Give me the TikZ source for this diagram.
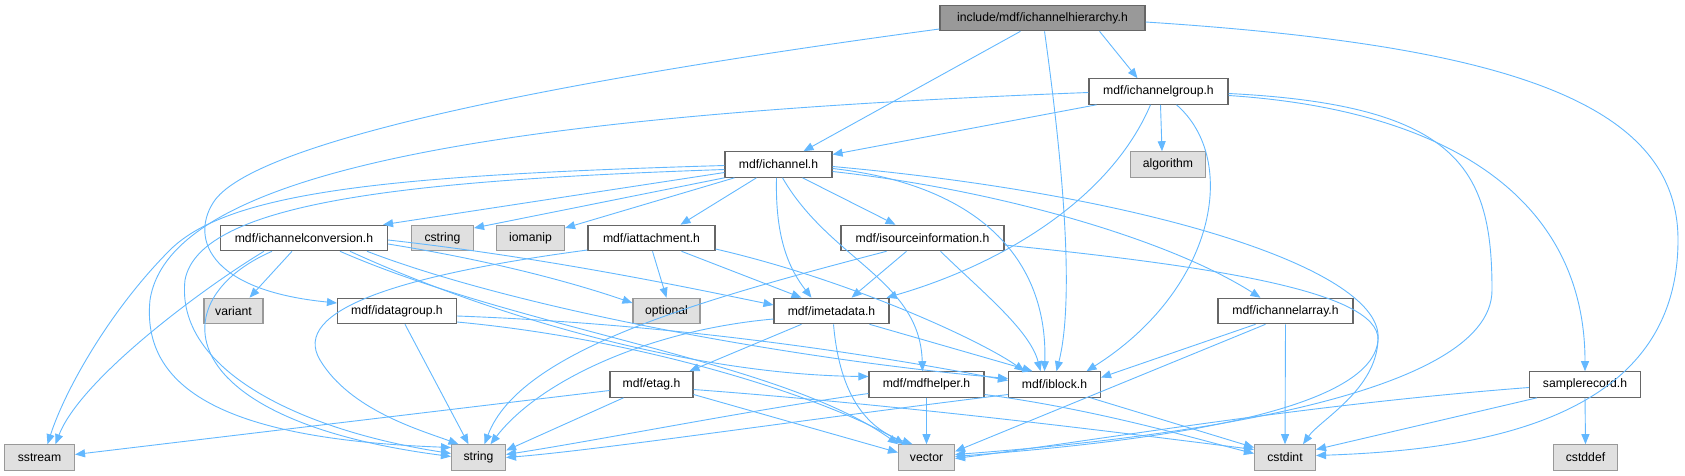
\documentclass[tikz,border=0pt]{standalone}
\usepackage{fontspec}
\setmainfont{Liberation Sans}
\usepackage{xcolor}
\usepackage{tikz}
\usetikzlibrary{arrows.meta}
\definecolor{edgeblue}{HTML}{63B8FF}
\definecolor{boxline}{HTML}{666666}
\definecolor{sysline}{HTML}{999999}
\definecolor{sysfill}{HTML}{E0E0E0}
\tikzset{
  hdr/.style={rectangle, draw=boxline, line width=1.1pt, fill=white, minimum height=25.5pt, inner sep=0pt, font=\fontsize{12.2}{14}\selectfont},
  sys/.style={hdr, draw=sysline, fill=sysfill},
  mainhdr/.style={hdr, fill=sysline},
  dep/.style={-{Triangle[length=10pt,width=8pt]}, line width=0.9pt, edgeblue},
}

\begin{document}
\begin{tikzpicture}[x=1pt, y=-1pt]
\useasboundingbox (0,0) rectangle (1685,476);
\node[mainhdr, minimum width=205pt] (root) at (1042.5,18) {include/mdf/ichannelhierarchy.h};
\node[hdr, minimum width=139pt] (grp) at (1158.5,91.5) {mdf/ichannelgroup.h};
\node[hdr, minimum width=107pt] (chan) at (778.5,164.5) {mdf/ichannel.h};
\node[sys, minimum width=75pt] (algo) at (1168,164.5) {algorithm};
\node[hdr, minimum width=167pt] (conv) at (304,238) {mdf/ichannelconversion.h};
\node[sys, minimum width=62pt] (cstr) at (442.5,238) {cstring};
\node[sys, minimum width=68pt] (ioman) at (530.5,238) {iomanip};
\node[hdr, minimum width=127pt] (attach) at (651.5,238) {mdf/iattachment.h};
\node[hdr, minimum width=163pt] (srcinfo) at (922.5,238) {mdf/isourceinformation.h};
\node[sys, minimum width=59pt] (variant) at (233.5,311) {variant};
\node[hdr, minimum width=119pt] (dgrp) at (397,311) {mdf/idatagroup.h};
\node[sys, minimum width=67pt] (optional) at (666.5,311) {optional};
\node[hdr, minimum width=115pt] (meta) at (831.5,311) {mdf/imetadata.h};
\node[hdr, minimum width=135pt] (chanarr) at (1285.5,311) {mdf/ichannelarray.h};
\node[hdr, minimum width=83pt] (etag) at (651.5,384.5) {mdf/etag.h};
\node[hdr, minimum width=115pt] (helper) at (926.5,384.5) {mdf/mdfhelper.h};
\node[hdr, minimum width=92pt] (block) at (1054.5,384.5) {mdf/iblock.h};
\node[hdr, minimum width=111pt] (srec) at (1585,384.5) {samplerecord.h};
\node[sys, minimum width=70pt] (sstream) at (39.5,457.5) {sstream};
\node[sys, minimum width=54pt] (string) at (478.5,457.5) {string};
\node[sys, minimum width=56pt] (vector) at (926.5,457.5) {vector};
\node[sys, minimum width=61pt] (cstdint) at (1285,457.5) {cstdint};
\node[sys, minimum width=64pt] (cstddef) at (1585.5,457.5) {cstddef};

\draw[dep]([xshift=57pt]root.south)--([xshift=-21pt]grp.north);
\draw[dep]([xshift=-22pt]root.south)--([xshift=25pt]chan.north);
\draw[dep]([xshift=2pt]root.south) .. controls (1068,200) and (1072,310) .. ([xshift=2pt]block.north);
\draw[dep]([yshift=-4pt]root.east) .. controls (1500,45) and (1678,100) .. (1678,240) .. controls (1678,420) and (1480,450) .. ([yshift=2pt]cstdint.east);
\draw[dep]([yshift=-11pt]root.west) .. controls (560,80) and (260,140) .. (215,200) .. controls (190,235) and (205,290) .. ([yshift=8pt]dgrp.west);

\draw[dep]([xshift=-62pt]grp.south)--([yshift=10pt]chan.east);
\draw[dep]([yshift=-1pt]grp.west) .. controls (500,115) and (170,170) .. (150,300) .. controls (140,400) and (250,440) .. ([yshift=10pt]string.west);
\draw[dep]([xshift=-8pt]grp.south) .. controls (1110,200) and (1000,265) .. ([xshift=-3pt]meta.north east);
\draw[dep]([xshift=2pt]grp.south)--([xshift=-6pt]algo.north);
\draw[dep]([xshift=18pt]grp.south) .. controls (1240,160) and (1215,290) .. ([xshift=32pt]block.north);
\draw[dep]([yshift=-2pt]grp.east) .. controls (1460,105) and (1492,170) .. (1492,290) .. controls (1492,400) and (1150,440) .. ([yshift=3pt]vector.east);
\draw[dep]([yshift=-4pt]grp.east) .. controls (1450,110) and (1585,200) .. (srec.north);

\draw[dep]([yshift=-1pt]chan.west) .. controls (400,175) and (230,190) .. (170,250) .. controls (110,310) and (65,390) .. ([xshift=8pt]sstream.north);
\draw[dep]([yshift=-5pt]chan.west) .. controls (420,180) and (200,200) .. (185,280) .. controls (175,370) and (300,430) .. ([yshift=4pt]string.west);
\draw[dep]([yshift=-8pt]chan.west)--([xshift=-5pt]conv.north east);
\draw[dep](chan.south west)--([yshift=10pt]cstr.east);
\draw[dep]([xshift=-44pt]chan.south)--([yshift=10pt]ioman.east);
\draw[dep]([xshift=-22pt]chan.south)--([xshift=29pt]attach.north);
\draw[dep]([xshift=-2pt]chan.south) .. controls (775,240) and (790,270) .. ([xshift=-20pt]meta.north);
\draw[dep]([xshift=4pt]chan.south) .. controls (830,260) and (920,280) .. ([xshift=-4pt]helper.north);
\draw[dep]([xshift=24pt]chan.south)--([xshift=-27pt]srcinfo.north);
\draw[dep]([yshift=-4pt]chan.east) .. controls (980,185) and (1048,260) .. ([xshift=-10pt]block.north);
\draw[dep]([yshift=-7pt]chan.east) .. controls (1000,190) and (1170,240) .. ([xshift=-25pt]chanarr.north);
\draw[dep]([yshift=-2pt]chan.east) .. controls (1150,195) and (1385,270) .. (1378,340) .. controls (1372,420) and (1100,445) .. ([yshift=1pt]vector.east);

\draw[dep]([xshift=-12pt]conv.south)--([xshift=16pt]variant.north);
\draw[dep]([xshift=-40pt]conv.south) .. controls (200,290) and (80,380) .. ([xshift=16pt]sstream.north);
\draw[dep]([xshift=-32pt]conv.south) .. controls (160,300) and (170,420) .. ([yshift=1pt]string.west);
\draw[dep]([yshift=-6pt]conv.east) .. controls (500,262) and (580,285) .. ([yshift=8pt]optional.west);
\draw[dep]([yshift=-2pt]conv.east) .. controls (550,258) and (700,290) .. ([yshift=6pt]meta.west);
\draw[dep]([xshift=63pt]conv.south) .. controls (520,310) and (800,360) .. ([yshift=6pt]block.west);
\draw[dep]([xshift=46pt]conv.south) .. controls (500,320) and (700,375) .. ([yshift=8pt]helper.west);
\draw[dep]([xshift=36pt]conv.south) .. controls (520,330) and (780,360) .. (vector.north west);

\draw[dep]([xshift=8pt]dgrp.south)--([xshift=-10pt]string.north);
\draw[dep]([yshift=-5pt]dgrp.east) .. controls (700,325) and (900,360) .. ([yshift=4pt]block.west);
\draw[dep]([yshift=-11pt]dgrp.east) .. controls (650,340) and (830,400) .. ([xshift=-22pt]vector.north);

\draw[dep]([yshift=-12pt]attach.west) .. controls (400,275) and (290,310) .. (320,360) .. controls (350,410) and (420,430) .. ([xshift=-20pt]string.north);
\draw[dep]([xshift=1pt]attach.south)--(optional.north);
\draw[dep]([xshift=30pt]attach.south)--([xshift=-30pt]meta.north);
\draw[dep]([yshift=-11pt]attach.east) .. controls (850,280) and (980,340) .. ([xshift=-30pt]block.north);

\draw[dep]([xshift=-36pt]srcinfo.south) .. controls (700,300) and (520,350) .. ([xshift=6pt]string.north);
\draw[dep]([xshift=-16pt]srcinfo.south)--([xshift=20pt]meta.north);
\draw[dep]([xshift=18pt]srcinfo.south) .. controls (980,290) and (1030,330) .. ([xshift=-14pt]block.north);
\draw[dep]([yshift=-7pt]srcinfo.east) .. controls (1200,265) and (1380,290) .. (1378,340) .. controls (1376,390) and (1320,420) .. ([xshift=18pt]cstdint.north);

\draw[dep]([yshift=-8pt]meta.west) .. controls (650,330) and (540,380) .. ([xshift=12pt]string.north);
\draw[dep]([xshift=-30pt]meta.south)--([xshift=38pt]etag.north);
\draw[dep]([xshift=2pt]meta.south) .. controls (840,400) and (870,430) .. ([xshift=-14pt]vector.north);
\draw[dep]([xshift=38pt]meta.south)--([xshift=-22pt]block.north);

\draw[dep]([xshift=-30pt]chanarr.south)--([yshift=7pt]block.east);
\draw[dep]([xshift=-20pt]chanarr.south)--([yshift=6pt]vector.east);
\draw[dep](chanarr.south)--(cstdint.north);

\draw[dep]([yshift=-6pt]etag.west)--([yshift=3pt]sstream.east);
\draw[dep]([xshift=-28pt]etag.south)--([yshift=7pt]string.east);
\draw[dep]([yshift=-10pt]etag.east)--([yshift=5pt]vector.west);
\draw[dep]([yshift=-5pt]etag.east) .. controls (900,405) and (1100,430) .. ([yshift=8pt]cstdint.west);

\draw[dep]([yshift=-9pt]helper.west) .. controls (750,410) and (600,440) .. ([yshift=3pt]string.east);
\draw[dep](helper.south)--(vector.north);
\draw[dep]([yshift=-10pt]helper.east) .. controls (1100,410) and (1200,440) .. ([yshift=4pt]cstdint.west);

\draw[dep]([yshift=-10pt]block.west) .. controls (800,420) and (600,450) .. (string.east);
\draw[dep]([xshift=36pt]block.south)--([yshift=10pt]cstdint.west);

\draw[dep]([yshift=-3pt]srec.west) .. controls (1300,405) and (1100,440) .. ([yshift=-1pt]vector.east);
\draw[dep]([xshift=-48pt]srec.south)--([yshift=8pt]cstdint.east);
\draw[dep](srec.south)--(cstddef.north);
\end{tikzpicture}
\end{document}
